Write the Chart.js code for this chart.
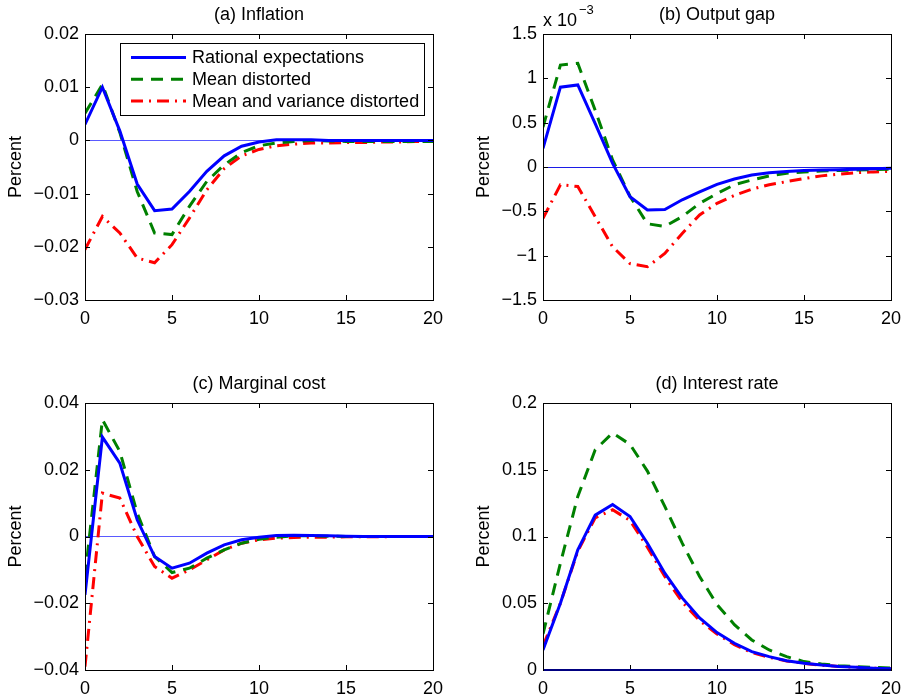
<!DOCTYPE html>
<html>
<head>
<meta charset="utf-8">
<script src="https://cdn.jsdelivr.net/npm/chart.js@4"></script>
<style>
  body { margin: 0; background: #fff; overflow: hidden; }
  #wrap { position: relative; width: 901px; height: 700px; }
  canvas { position: absolute; }
</style>
</head>
<body>
<div id="wrap">
  <canvas id="inflation" width="450" height="350" style="left:0;top:0"></canvas>
  <canvas id="outputgap" width="433" height="350" style="left:468px;top:0"></canvas>
  <canvas id="mcost" width="450" height="350" style="left:0;top:350px"></canvas>
  <canvas id="irate" width="433" height="350" style="left:468px;top:350px"></canvas>
</div>
<script>
// horizon (quarters)
const periods = [0,1,2,3,4,5,6,7,8,9,10,11,12,13,14,15,16,17,18,19,20];
const seriesNames = ["Rational expectations", "Mean distorted", "Mean and variance distorted"];

// (a) inflation
const inflationRE  = [0.003,0.0100,0.0018,-0.0082,-0.0132,-0.0129,-0.0096,-0.0058,-0.0029,-0.0011,-0.0003,0.0001,0.0001,0.0001,0,0,0,0,0,0,0];
const inflationMD  = [0.0051,0.0105,0.0015,-0.0096,-0.0174,-0.0177,-0.0124,-0.0077,-0.0046,-0.0023,-0.0010,-0.0005,-0.0002,0,-0.0001,-0.0002,-0.0002,-0.0002,-0.0002,-0.0002,-0.0002];
const inflationMVD = [-0.0205,-0.0143,-0.0174,-0.0221,-0.0230,-0.0196,-0.0146,-0.0093,-0.0053,-0.0029,-0.0017,-0.0010,-0.0007,-0.0005,-0.0005,-0.0004,-0.0004,-0.0003,-0.0003,-0.0002,-0.0002];

// (b) output gap, in units of 10^-3 percent
const gapRE  = [0.21,0.90,0.925,0.49,0.04,-0.335,-0.485,-0.48,-0.37,-0.28,-0.195,-0.135,-0.09,-0.064,-0.05,-0.04,-0.035,-0.03,-0.025,-0.02,-0.015];
const gapMD  = [0.45,1.15,1.17,0.64,0.08,-0.33,-0.64,-0.67,-0.56,-0.41,-0.30,-0.20,-0.147,-0.10,-0.07,-0.056,-0.045,-0.04,-0.035,-0.03,-0.025];
const gapMVD = [-0.58,-0.20,-0.22,-0.56,-0.90,-1.09,-1.125,-0.975,-0.75,-0.54,-0.41,-0.32,-0.25,-0.20,-0.165,-0.13,-0.10,-0.08,-0.065,-0.055,-0.05];

// (c) marginal cost
const mcRE  = [-0.0175,0.0298,0.022,0.005,-0.006,-0.0095,-0.008,-0.005,-0.0025,-0.001,-0.0002,0.0003,0.0004,0.0003,0.0002,0.0001,0,0,0,0,0];
const mcMD  = [-0.012,0.035,0.0255,0.007,-0.006,-0.0108,-0.0095,-0.0065,-0.004,-0.002,-0.0008,-0.0002,0.0002,0.0002,0.0001,0,0,0,0,0,0];
const mcMVD = [-0.039,0.013,0.0115,0,-0.009,-0.0125,-0.010,-0.007,-0.004,-0.002,-0.001,-0.0005,-0.0003,-0.0002,-0.0002,-0.0001,-0.0001,-0.0001,0,0,0];

// (d) interest rate
const rateRE  = [0.015,0.05,0.09,0.116,0.124,0.115,0.095,0.0725,0.054,0.039,0.028,0.020,0.0138,0.010,0.007,0.005,0.0037,0.0027,0.002,0.0014,0.001];
const rateMD  = [0.027,0.08,0.13,0.165,0.1775,0.169,0.149,0.1225,0.095,0.070,0.049,0.034,0.0225,0.015,0.010,0.0063,0.0045,0.0032,0.0025,0.002,0.0015];
const rateMVD = [0.018,0.05,0.089,0.114,0.120,0.112,0.092,0.070,0.051,0.037,0.027,0.019,0.013,0.0095,0.0068,0.005,0.0036,0.0027,0.002,0.0014,0.001];

const FONT = "'Liberation Sans', Arial, sans-serif";
const colors = ["#0000ff", "#008000", "#ff0000"];
const dashes = [[], [12, 8], [12, 6, 2, 6]];

function pts(vals){ return vals.map((v,i)=>({x: periods[i], y: v})); }
function fmt(v){ return String(+v.toFixed(4)).replace("-", "\u2212"); }

// box, inward ticks, panel title, optional legend and exponent
const frame = {
  id: "frame",
  afterDraw(chart, args, opts){
    const {ctx, chartArea: a, scales: {x, y}} = chart;
    ctx.save();
    ctx.strokeStyle = "#000";
    ctx.lineWidth = 1;
    ctx.beginPath();
    x.ticks.forEach(t=>{
      const px = Math.round(x.getPixelForValue(t.value)) + 0.5;
      ctx.moveTo(px, a.bottom); ctx.lineTo(px, a.bottom - 5);
      ctx.moveTo(px, a.top); ctx.lineTo(px, a.top + 5);
    });
    y.ticks.forEach(t=>{
      const py = Math.round(y.getPixelForValue(t.value)) + 0.5;
      ctx.moveTo(a.left, py); ctx.lineTo(a.left + 5, py);
      ctx.moveTo(a.right, py); ctx.lineTo(a.right - 5, py);
    });
    ctx.stroke();
    ctx.strokeRect(Math.round(a.left) + 0.5, Math.round(a.top) + 0.5, Math.round(a.right - a.left), Math.round(a.bottom - a.top));

    // zero line sitting on the frame edge stays visible
    if (opts.zeroOnTop) {
      const py = Math.round(y.getPixelForValue(0));
      ctx.strokeStyle = opts.zeroOnTop;
      ctx.lineWidth = 2;
      ctx.beginPath();
      ctx.moveTo(a.left + 1, py); ctx.lineTo(a.right, py);
      ctx.stroke();
    }

    ctx.fillStyle = "#000";
    ctx.font = "18px " + FONT;
    ctx.textAlign = "center";
    ctx.textBaseline = "middle";
    ctx.fillText(opts.title, (a.left + a.right) / 2, a.top - 19);

    if (opts.exponent) {
      ctx.textAlign = "left";
      ctx.textBaseline = "alphabetic";
      ctx.fillText("x 10", a.left, a.top - 8);
      ctx.font = "13px " + FONT;
      ctx.fillText("\u22123", a.left + 36, a.top - 20);
    }

    if (opts.legend) {
      const lx = a.left + 35, ly = a.top + 9, lw = 304, lh = 72;
      ctx.fillStyle = "#fff";
      ctx.fillRect(lx, ly, lw, lh);
      ctx.strokeStyle = "#000";
      ctx.lineWidth = 1;
      ctx.strokeRect(lx + 0.5, ly + 0.5, lw, lh);
      ctx.font = "18px " + FONT;
      ctx.textAlign = "left";
      ctx.textBaseline = "middle";
      chart.data.datasets.forEach((ds, i)=>{
        const cy = ly + 14.5 + i * 21.7;
        ctx.strokeStyle = ds.borderColor;
        ctx.lineWidth = ds.borderWidth;
        ctx.setLineDash(ds.borderDash);
        ctx.beginPath();
        ctx.moveTo(lx + 11, cy); ctx.lineTo(lx + 66, cy);
        ctx.stroke();
        ctx.setLineDash([]);
        ctx.fillStyle = "#000";
        ctx.fillText(ds.label, lx + 72, cy + 1);
      });
    }
    ctx.restore();
  }
};

function panel(id, series, cfg){
  new Chart(document.getElementById(id), {
    type: "line",
    data: {
      datasets: series.map((vals, i)=>({
        label: seriesNames[i],
        data: pts(vals),
        borderColor: colors[i],
        borderWidth: 3,
        borderDash: dashes[i],
        pointRadius: 0,
        tension: 0,
        fill: false
      }))
    },
    options: {
      responsive: false,
      animation: false,
      events: [],
      layout: { padding: { top: cfg.top, right: cfg.right, left: 0, bottom: 0 } },
      plugins: {
        legend: { display: false },
        tooltip: { enabled: false },
        frame: { title: cfg.title, legend: cfg.legend, exponent: cfg.exponent, zeroOnTop: cfg.zeroOnTop }
      },
      scales: {
        x: {
          type: "linear",
          min: 0, max: 20,
          afterFit: s => { s.height = cfg.xh; s.paddingLeft = 0; s.paddingRight = 0; },
          border: { display: false },
          grid: { display: false },
          ticks: { stepSize: 5, padding: 0, color: "#000", font: { family: FONT, size: 18 }, maxRotation: 0 }
        },
        y: {
          min: cfg.min, max: cfg.max,
          afterFit: s => { s.width = cfg.yw; s.paddingTop = 0; s.paddingBottom = 0; },
          border: { display: false },
          grid: {
            drawTicks: false,
            color: c => c.tick && c.tick.value === 0 ? cfg.zeroColor : "rgba(0,0,0,0)",
            lineWidth: c => c.tick && c.tick.value === 0 ? cfg.zeroWidth : 0
          },
          ticks: { stepSize: cfg.step, padding: 6, color: "#000", font: { family: FONT, size: 18 }, callback: v => fmt(v) },
          title: { display: true, text: "Percent", color: "#000", font: { family: FONT, size: 18 }, padding: { top: 5, bottom: 0 } }
        }
      }
    },
    plugins: [frame]
  });
}

panel("inflation", [inflationRE, inflationMD, inflationMVD],
  { title: "(a) Inflation", legend: true, min: -0.03, max: 0.02, step: 0.01, top: 34, right: 17, xh: 50, yw: 85, zeroColor: "#5a5aff", zeroWidth: 1 });
panel("outputgap", [gapRE, gapMD, gapMVD],
  { title: "(b) Output gap", exponent: true, min: -1.5, max: 1.5, step: 0.5, top: 34, right: 10, xh: 50, yw: 75, zeroColor: "#1c1ce6", zeroWidth: 1 });
panel("mcost", [mcRE, mcMD, mcMVD],
  { title: "(c) Marginal cost", min: -0.04, max: 0.04, step: 0.02, top: 53, right: 17, xh: 30, yw: 85, zeroColor: "#5a5aff", zeroWidth: 1 });
panel("irate", [rateRE, rateMD, rateMVD],
  { title: "(d) Interest rate", min: 0, max: 0.2, step: 0.05, top: 53, right: 10, xh: 30, yw: 75, zeroColor: "#000080", zeroWidth: 2, zeroOnTop: "#000080" });
</script>
</body>
</html>
